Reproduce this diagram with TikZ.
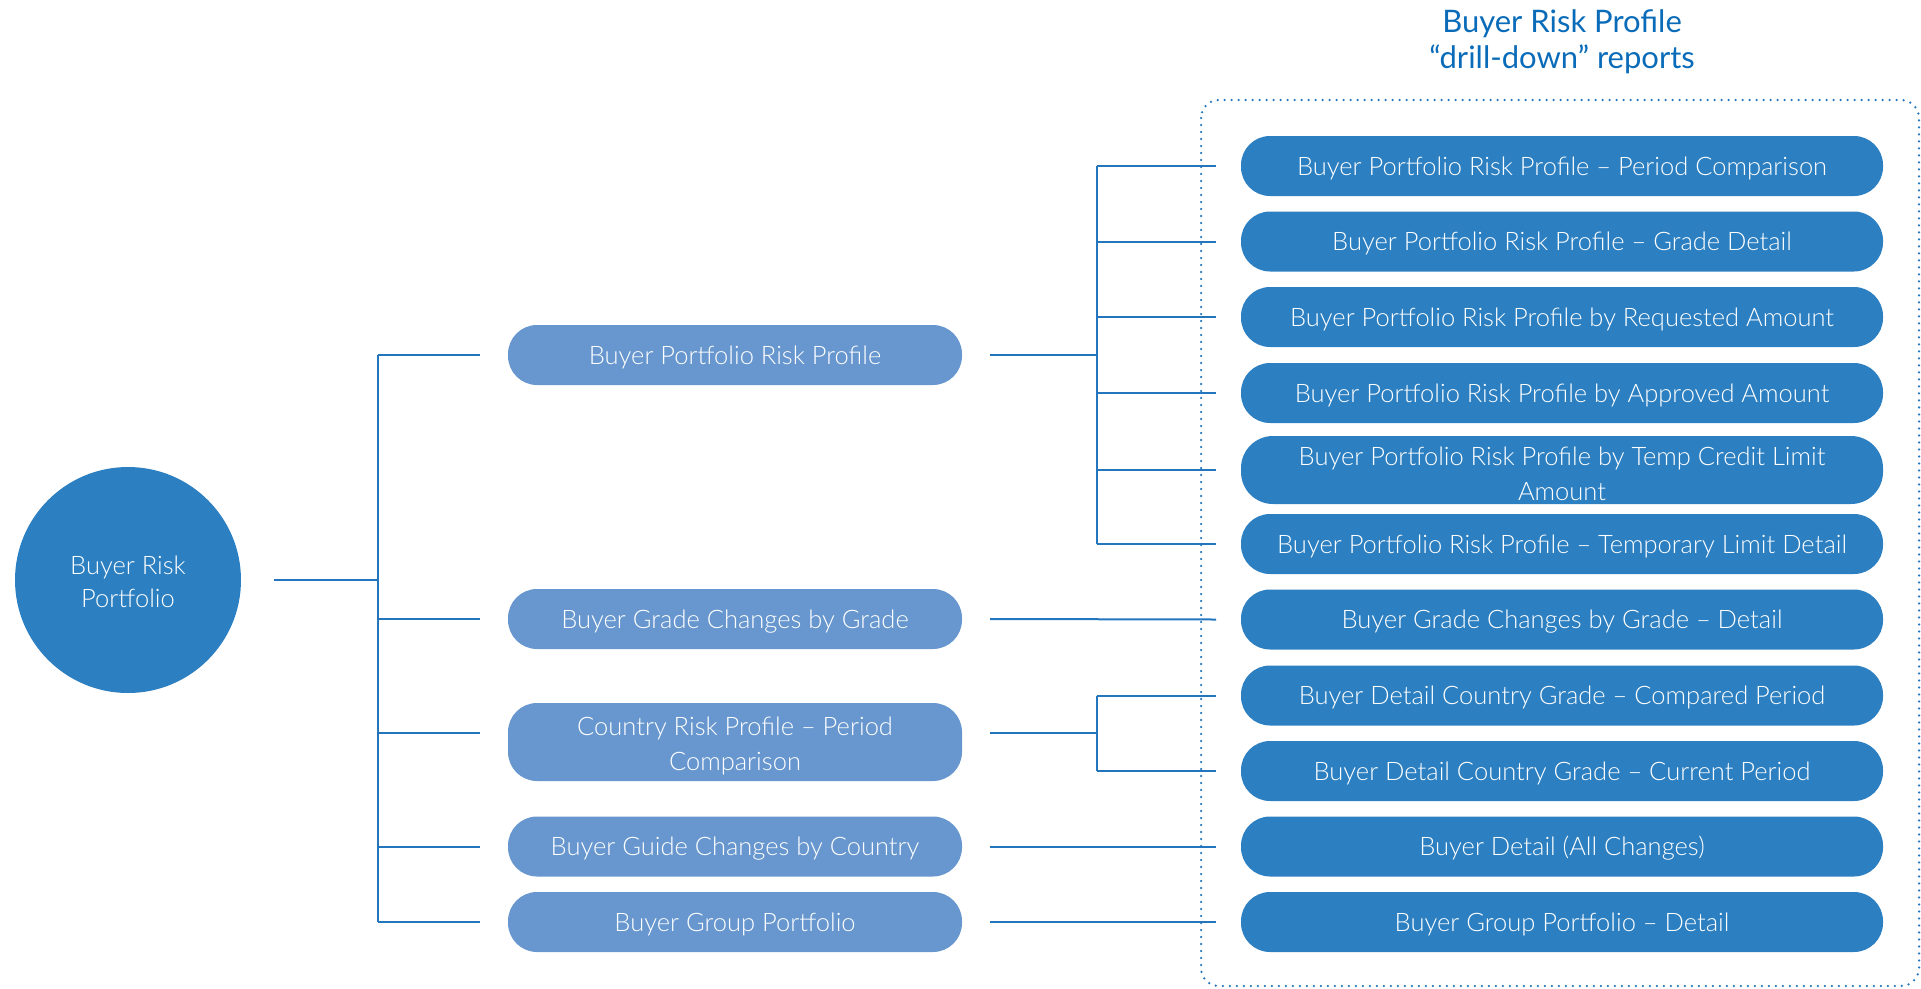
\documentclass[tikz,border=0pt]{standalone}
\usepackage{fontspec}
\setmainfont{Lato Light}
\newfontfamily\titlefont{Lato}
\newcommand\mystrut[1]{\rule{0pt}{#1}}
\definecolor{darkblue}{RGB}{44,127,193}
\definecolor{midblue}{RGB}{103,151,206}
\definecolor{lineblue}{RGB}{35,118,190}
\definecolor{titleblue}{RGB}{10,108,185}
\begin{document}
\begin{tikzpicture}[x=1pt,y=-1pt,
  conn/.style={draw=lineblue, line width=2pt},
  midbox/.style={fill=midblue, rounded corners=29pt, minimum width=454pt, minimum height=60pt,
    inner sep=0pt, text=white, align=center, font=\fontsize{25.5}{35}\selectfont, outer xsep=28pt},
  rightbox/.style={fill=darkblue, rounded corners=29pt, minimum width=642pt, minimum height=60pt,
    inner sep=0pt, text=white, align=center, font=\fontsize{25.5}{35}\selectfont, outer xsep=25pt},
  oneline/.style={text height=18.4pt, text depth=0pt},
  rootnode/.style={circle, fill=darkblue, minimum size=226pt, inner sep=0pt, text=white,
    align=center, font=\fontsize{25.5}{33}\selectfont, outer sep=33pt},
  titletext/.style={text=titleblue, align=center, font=\titlefont\fontsize{31}{36}\selectfont},
  frame/.style={draw=lineblue, line width=2.5pt, line cap=round, dash pattern=on 0pt off 7pt, rounded corners=18pt}
]
\useasboundingbox (0,0) rectangle (1921,988);

% title and dotted frame
\node[titletext] (title) at (1562,42) {Buyer Risk Profile\\“drill-down” reports};
\draw[frame] (1201,100) rectangle (1919,986);

% root
\node[rootnode] (root) at (128,580) {\mystrut{21.5pt}Buyer Risk\\Portfolio};

% middle level
\node[midbox, oneline] (m1) at (735,355) {Buyer Portfolio Risk Profile};
\node[midbox, oneline] (m2) at (735,619) {Buyer Grade Changes by Grade};
\node[midbox, minimum height=78pt, text depth=0pt] (m3) at (735,742) {\mystrut{21.5pt}Country Risk Profile – Period\\Comparison};
\node[midbox, oneline] (m4) at (735,846.5) {Buyer Guide Changes by Country};
\node[midbox, oneline] (m5) at (735,922) {Buyer Group Portfolio};

% right level
\node[rightbox, oneline] (r1) at (1562,166) {Buyer Portfolio Risk Profile – Period Comparison};
\node[rightbox, oneline] (r2) at (1562,241.5) {Buyer Portfolio Risk Profile – Grade Detail};
\node[rightbox, oneline] (r3) at (1562,317) {Buyer Portfolio Risk Profile by Requested Amount};
\node[rightbox, oneline] (r4) at (1562,393) {Buyer Portfolio Risk Profile by Approved Amount};
\node[rightbox, minimum height=68pt, rounded corners=32pt] (r5) at (1562,470) {\mystrut{26.5pt}Buyer Portfolio Risk Profile by Temp Credit Limit\\Amount};
\node[rightbox, oneline] (r6) at (1562,544) {Buyer Portfolio Risk Profile – Temporary Limit Detail};
\node[rightbox, oneline] (r7) at (1562,619.5) {Buyer Grade Changes by Grade – Detail};
\node[rightbox, oneline] (r8) at (1562,695.5) {Buyer Detail Country Grade – Compared Period};
\node[rightbox, oneline] (r9) at (1562,771) {Buyer Detail Country Grade – Current Period};
\node[rightbox, oneline] (r10) at (1562,846.5) {Buyer Detail (All Changes)};
\node[rightbox, oneline] (r11) at (1562,922) {Buyer Group Portfolio – Detail};

% trunk and branch x positions
\coordinate (T) at (378,0);
\coordinate (B) at (1097,0);

% root to middle
\draw[conn] (root.east) -- (root.east -| T);
\draw[conn] (T |- m1.west) -- (T |- m5.west);
\draw[conn] (T |- m1.west) -- (m1.west);
\draw[conn] (T |- m2.west) -- (m2.west);
\draw[conn] ([yshift=9pt]m3.west -| T) -- ([yshift=9pt]m3.west);
\draw[conn] (T |- m4.west) -- (m4.west);
\draw[conn] (T |- m5.west) -- (m5.west);

% m1 to r1..r6
\draw[conn] (m1.east) -- (m1.east -| B);
\draw[conn] (B |- r1.west) -- (B |- r6.west);
\foreach \r in {r1,r2,r3,r4,r5,r6}{\draw[conn] (B |- \r.west) -- (\r.west);}

% m2 to r7
\draw[conn] (m2.east) -- (r7.west);

% m3 to r8, r9
\draw[conn] ([yshift=9pt]m3.east) -- ([yshift=9pt]m3.east -| B);
\draw[conn] (B |- r8.west) -- (B |- r9.west);
\draw[conn] (B |- r8.west) -- (r8.west);
\draw[conn] (B |- r9.west) -- (r9.west);

% m4, m5
\draw[conn] (m4.east) -- (r10.west);
\draw[conn] (m5.east) -- (r11.west);
\end{tikzpicture}
\end{document}
